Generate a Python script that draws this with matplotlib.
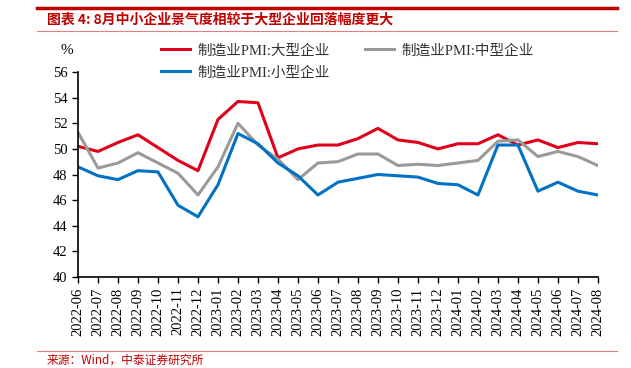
import matplotlib.pyplot as plt
from matplotlib.lines import Line2D

months = [
    "2022-06", "2022-07", "2022-08", "2022-09", "2022-10", "2022-11", "2022-12",
    "2023-01", "2023-02", "2023-03", "2023-04", "2023-05", "2023-06", "2023-07",
    "2023-08", "2023-09", "2023-10", "2023-11", "2023-12", "2024-01", "2024-02",
    "2024-03", "2024-04", "2024-05", "2024-06", "2024-07", "2024-08",
]
large = [50.2, 49.8, 50.5, 51.1, 50.1, 49.1, 48.3, 52.3, 53.7, 53.6, 49.3, 50.0, 50.3, 50.3,
         50.8, 51.6, 50.7, 50.5, 50.0, 50.4, 50.4, 51.1, 50.3, 50.7, 50.1, 50.5, 50.4]
medium = [51.3, 48.5, 48.9, 49.7, 48.9, 48.1, 46.4, 48.6, 52.0, 50.3, 49.2, 47.6, 48.9, 49.0,
          49.6, 49.6, 48.7, 48.8, 48.7, 48.9, 49.1, 50.6, 50.7, 49.4, 49.8, 49.4, 48.7]
small = [48.6, 47.9, 47.6, 48.3, 48.2, 45.6, 44.7, 47.2, 51.2, 50.4, 48.9, 47.9, 46.4, 47.4,
         47.7, 48.0, 47.9, 47.8, 47.3, 47.2, 46.4, 50.3, 50.3, 46.7, 47.4, 46.7, 46.4]

fonts = ["Liberation Serif", "Noto Sans CJK SC"]
plt.rcParams["font.family"] = fonts

red = "#E0001B"
grey = "#9A9A9A"
blue = "#0072C6"

fig = plt.figure(figsize=(6.31, 3.68), dpi=100)
ax = fig.add_axes([0.1236, 0.2473, 0.824, 0.557])

x = range(len(months))
l1, = ax.plot(x, large, color=red, lw=2.2, label="制造业PMI:大型企业")
l2, = ax.plot(x, medium, color=grey, lw=2.2, label="制造业PMI:中型企业")
l3, = ax.plot(x, small, color=blue, lw=2.2, label="制造业PMI:小型企业")

ax.set_xlim(0, len(months) - 1)
ax.set_ylim(40, 56)
ax.set_yticks(range(40, 57, 2))
ax.set_xticks(list(x))
ax.set_xticklabels(months, rotation=90)
ax.tick_params(axis="both", labelsize=10.5, direction="out", length=4, width=1, colors="black")
for s in ["top", "right"]:
    ax.spines[s].set_visible(False)
for s in ["left", "bottom"]:
    ax.spines[s].set_linewidth(1.2)

leg = ax.legend(handles=[l1, l3, l2], ncol=2, frameon=False, fontsize=10.5,
                loc="lower left", bbox_to_anchor=(0.148, 0.935), handlelength=2.0,
                columnspacing=2.4, labelspacing=0.6, handletextpad=0.5, borderaxespad=0)
for t in leg.get_texts():
    t.set_color("#333333")

fig.text(67 / 631, 1 - 50 / 368, "%", fontsize=11, ha="center", va="center")

# header / footer decorations
fig.add_artist(Line2D([37 / 631, 617 / 631], [1 - 8 / 368] * 2, color="#C00000", lw=2.5))
fig.add_artist(Line2D([37 / 631, 617 / 631], [1 - 31 / 368] * 2, color="#E08080", lw=0.8))
fig.add_artist(Line2D([37 / 631, 617 / 631], [1 - 351 / 368] * 2, color="#E08080", lw=0.8))

fig.text(47 / 631, 1 - 20 / 368, "图表 4: 8月中小企业景气度相较于大型企业回落幅度更大",
         fontsize=10, color="#C00000", fontweight="bold", style="italic", va="center",
         family=["Noto Sans CJK SC", "DejaVu Sans"])
fig.text(47 / 631, 1 - 360 / 368, "来源：Wind，中泰证券研究所", fontsize=8.5,
         color="#C00000", va="center", family=["Noto Sans CJK SC", "DejaVu Sans"])

fig.savefig("out.png", dpi=100)
